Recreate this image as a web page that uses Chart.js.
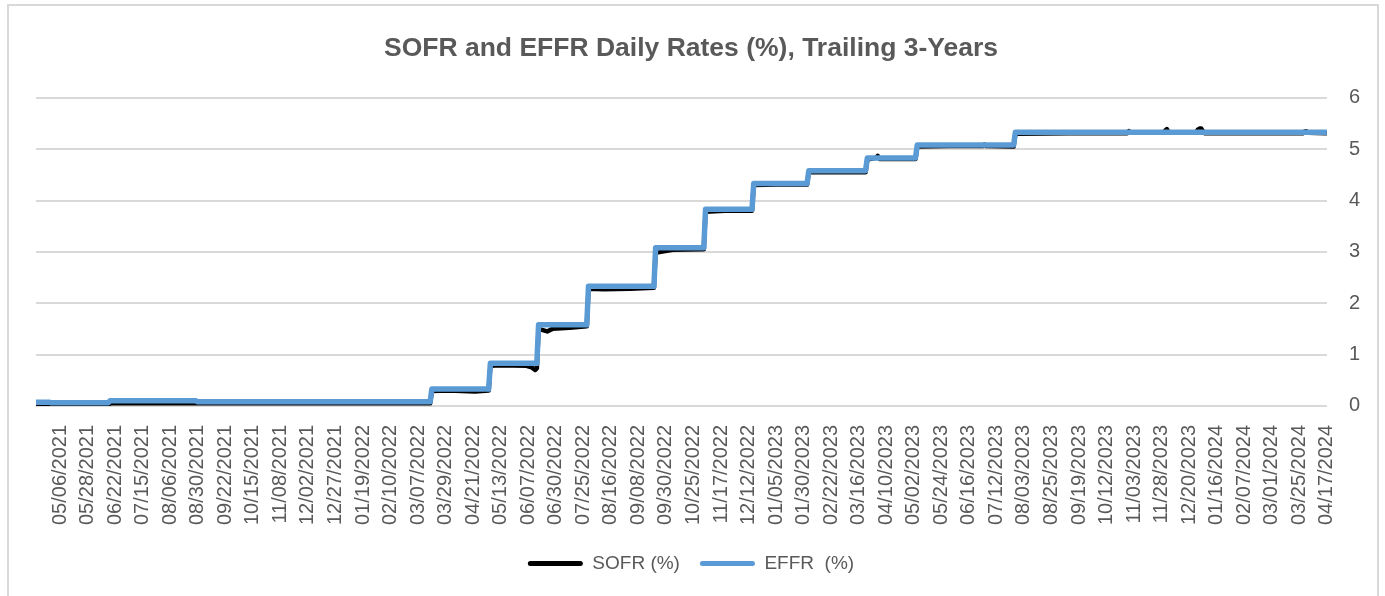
<!DOCTYPE html>
<html>
<head>
<meta charset="utf-8">
<script src="https://cdn.jsdelivr.net/npm/chart.js@4/dist/chart.umd.min.js"></script>
<style>
  html, body { margin: 0; padding: 0; background: #ffffff; }
  #wrap { position: relative; width: 1385px; height: 596px; overflow: hidden; }
  #frame { position: absolute; left: 7px; top: 4px; width: 1372px; height: 620px; border: 2px solid #d9d9d9; box-sizing: border-box; }
  canvas { position: absolute; left: 0; top: 0; }
</style>
</head>
<body>
<div id="wrap">
  <div id="frame"></div>
  <canvas id="c" width="1385" height="596"></canvas>
</div>
<script>
// Tick labels (every 16th business day) and their category positions
const tickLabels = ['05/06/2021','05/28/2021','06/22/2021','07/15/2021','08/06/2021','08/30/2021','09/22/2021','10/15/2021','11/08/2021','12/02/2021','12/27/2021',
  '01/19/2022','02/10/2022','03/07/2022','03/29/2022','04/21/2022','05/13/2022','06/07/2022','06/30/2022','07/25/2022','08/16/2022','09/08/2022','09/30/2022','10/25/2022','11/17/2022','12/12/2022',
  '01/05/2023','01/30/2023','02/22/2023','03/16/2023','04/10/2023','05/02/2023','05/24/2023','06/16/2023','07/12/2023','08/03/2023','08/25/2023','09/19/2023','10/12/2023','11/03/2023','11/28/2023','12/20/2023',
  '01/16/2024','02/07/2024','03/01/2024','03/25/2024','04/17/2024'];
const tickIdx = [14,30,46,62,78,94,110,126,142,158,174,190,206,222,238,254,270,286,302,318,334,350,366,382,398,414,430,446,462,478,494,510,526,542,558,574,590,606,622,638,654,670,686,702,718,734,750];
const lastIdx = 750;

// EFFR (%) : business-day index and value at each change
const effrIdx = [0, 8, 9, 42, 43, 93, 94, 229, 230, 263, 264, 291, 292, 320, 321, 359, 360, 388, 389, 416, 417, 448, 449, 482, 483, 511, 512, 568, 569, 750];
const effrVal = [0.07, 0.07, 0.06, 0.06, 0.10, 0.10, 0.08, 0.08, 0.33, 0.33, 0.83, 0.83, 1.58, 1.58, 2.33, 2.33, 3.08, 3.08, 3.83, 3.83, 4.33, 4.33, 4.58, 4.58, 4.83, 4.83, 5.08, 5.08, 5.33, 5.33];

// SOFR (%) : business-day index and value
const sofrIdx = [0, 42, 43, 229, 230, 240, 255, 263, 264, 270, 285, 288, 290, 291, 292, 297, 300, 310, 320, 321, 330, 345, 359, 360, 363, 370, 388, 389, 400, 416, 417, 430, 448, 449, 482, 483, 488, 489, 490, 511, 512, 530, 550, 551, 552, 568, 569, 600, 634, 635, 636, 655, 656, 657, 658, 674, 675, 676, 677, 678, 679, 736, 737, 738, 739, 750];
const sofrVal = [0.01, 0.01, 0.05, 0.05, 0.29, 0.30, 0.28, 0.30, 0.78, 0.79, 0.78, 0.75, 0.70, 0.73, 1.50, 1.45, 1.50, 1.52, 1.55, 2.28, 2.27, 2.28, 2.30, 2.98, 3.00, 3.04, 3.05, 3.78, 3.80, 3.80, 4.30, 4.31, 4.31, 4.55, 4.55, 4.80, 4.83, 4.87, 4.81, 4.81, 5.05, 5.06, 5.06, 5.09, 5.06, 5.05, 5.30, 5.31, 5.31, 5.35, 5.32, 5.32, 5.36, 5.39, 5.33, 5.33, 5.38, 5.40, 5.40, 5.35, 5.31, 5.31, 5.34, 5.35, 5.32, 5.31];

const yTicks = [0, 1, 2, 3, 4, 5, 6];

const TXT = '#595959';
const FONT = "'Liberation Sans', Arial, sans-serif";

const sofrData = sofrIdx.map((x, i) => ({ x: x, y: sofrVal[i] }));
const effrData = effrIdx.map((x, i) => ({ x: x, y: effrVal[i] }));

new Chart(document.getElementById('c'), {
  type: 'line',
  data: {
    datasets: [
      { label: 'SOFR (%)', data: sofrData, order: 2, borderColor: '#000000', backgroundColor: '#000000', borderWidth: 4.5, pointRadius: 0, borderJoinStyle: 'round', borderCapStyle: 'round', tension: 0 },
      { label: 'EFFR  (%)', data: effrData, order: 1, borderColor: '#5B9BD5', backgroundColor: '#5B9BD5', borderWidth: 5.5, pointRadius: 0, borderJoinStyle: 'round', borderCapStyle: 'round', tension: 0 }
    ]
  },
  options: {
    responsive: false,
    devicePixelRatio: 1,
    animation: false,
    layout: { padding: { left: 0, right: 3, top: 0, bottom: 13 } },
    plugins: {
      title: {
        display: true,
        text: 'SOFR and EFFR Daily Rates (%), Trailing 3-Years',
        color: TXT,
        font: { family: FONT, size: 26.5, weight: 'bold' },
        padding: { top: 33, bottom: 33 }
      },
      legend: {
        position: 'bottom',
        labels: {
          color: TXT,
          font: { family: FONT, size: 19 },
          boxWidth: 55,
          boxHeight: 5,
          padding: 20,
          generateLabels: (chart) => chart.data.datasets.map((d, i) => ({
            text: d.label, fillStyle: d.borderColor, strokeStyle: d.borderColor, lineWidth: 0,
            fontColor: TXT, borderRadius: 2.5, datasetIndex: i, hidden: false
          }))
        }
      },
      tooltip: { enabled: false }
    },
    scales: {
      x: {
        type: 'linear',
        min: 0,
        max: lastIdx,
        grid: { display: false },
        border: { display: false },
        afterBuildTicks: (axis) => { axis.ticks = tickIdx.map(v => ({ value: v })); },
        afterFit: (axis) => { axis.height -= 2; axis.paddingRight = 0; axis.paddingLeft = 36; },
        ticks: {
          autoSkip: false,
          minRotation: 90,
          maxRotation: 90,
          padding: 11,
          color: TXT,
          font: { family: FONT, size: 20 },
          callback: (v) => { const k = tickIdx.indexOf(v); return k >= 0 ? tickLabels[k] : ''; }
        }
      },
      y: {
        position: 'right',
        min: 0,
        max: 6,
        afterBuildTicks: (axis) => { axis.ticks = yTicks.map(v => ({ value: v })); },
        grid: { color: '#d9d9d9', lineWidth: 2, drawTicks: false },
        border: { display: false },
        ticks: {
          padding: 22,
          color: TXT,
          font: { family: FONT, size: 20 }
        }
      }
    }
  }
});
</script>
</body>
</html>
